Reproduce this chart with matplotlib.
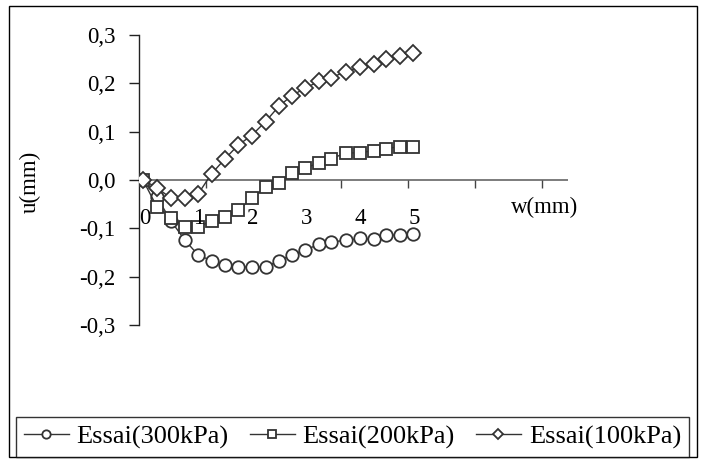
import matplotlib
matplotlib.use("Agg")
import matplotlib.pyplot as plt
from matplotlib.patches import Rectangle
from matplotlib.lines import Line2D

# ---- data ----
w = [0.0, 0.26, 0.52, 0.78, 1.02, 1.27, 1.52, 1.76, 2.01, 2.27, 2.52,
     2.75, 3.0, 3.26, 3.49, 3.75, 4.01, 4.27, 4.5, 4.76, 5.0]
u_300 = [0.0, -0.036, -0.085, -0.125, -0.155, -0.167, -0.176, -0.180, -0.180,
         -0.180, -0.167, -0.155, -0.145, -0.133, -0.128, -0.125, -0.121,
         -0.123, -0.114, -0.114, -0.111]
u_200 = [0.0, -0.056, -0.078, -0.098, -0.098, -0.084, -0.077, -0.063, -0.038,
         -0.015, -0.006, 0.015, 0.024, 0.036, 0.044, 0.056, 0.056, 0.061,
         0.065, 0.069, 0.069]
u_100 = [0.0, -0.016, -0.038, -0.038, -0.029, 0.013, 0.044, 0.072, 0.092,
         0.121, 0.153, 0.174, 0.190, 0.204, 0.212, 0.224, 0.233, 0.241,
         0.251, 0.256, 0.262]
series_labels = ["Essai(300kPa)", "Essai(200kPa)", "Essai(100kPa)"]
y_ticks = [0.3, 0.2, 0.1, 0.0, -0.1, -0.2, -0.3]
y_tick_labels = ["0,3", "0,2", "0,1", "0,0", "-0,1", "-0,2", "-0,3"]
x_text_labels = ["0", "1", "2", "3", "4", "5"]

plt.rcParams['font.family'] = ['Liberation Serif', 'DejaVu Serif']
FS = 16.5

fig = plt.figure(figsize=(7.04, 4.62), dpi=100)
ax = fig.add_axes([139/704, 1-325/462, (568-139)/704, (325-35)/462])

xmin, xmax = -0.074, 7.87
tick_step = 1.245
ax.set_xlim(xmin, xmax)
ax.set_ylim(-0.3, 0.3)

lc = '#333333'
mk = dict(markerfacecolor='white', markeredgecolor=lc, markeredgewidth=1.3,
          color=lc, linewidth=1.0)
ax.plot(w, u_300, marker='o', markersize=9, label=series_labels[0], **mk, zorder=3)
ax.plot(w, u_200, marker='s', markersize=9, label=series_labels[1], **mk, zorder=3)
ax.plot(w, u_100, marker='D', markersize=8.5, label=series_labels[2], **mk, zorder=3)

# spines
for s in ['top', 'right', 'bottom']:
    ax.spines[s].set_visible(False)
ax.spines['left'].set_color('#222222')
ax.spines['left'].set_linewidth(1.0)
ax.axhline(0, color='#666666', linewidth=1.2, zorder=1)

ax.set_yticks(y_ticks)
ax.set_yticklabels(y_tick_labels, fontsize=FS)
ax.tick_params(axis='y', direction='out', length=7, width=1, color='#222222', pad=10)

# x ticks drawn on the zero line, pointing down
xt = [xmin + tick_step * k for k in range(1, 7)]
ax.set_xticks([])
for x in xt:
    ax.plot([x, x], [0, -0.017], color='#444444', linewidth=1.0, zorder=1,
            solid_capstyle='butt')

for i, lab in enumerate(x_text_labels):
    ax.text(i + 0.03, -0.079, lab, ha='center', va='center', fontsize=FS)
ax.text(7.44, -0.057, "w(mm)", ha='center', va='center', fontsize=FS)
fig.text(30/704, 1-182/462, "u(mm)", rotation=90, ha='center', va='center', fontsize=FS)
ax.patch.set_alpha(0)

# legend
handles = [Line2D([], [], marker=m, markersize=s, **mk) for m, s in
           [('o', 6), ('s', 6), ('D', 5.5)]]
leg = fig.legend(handles, series_labels, loc='center',
                 bbox_to_anchor=((19+686)/2/704, 1-(418+456)/2/462),
                 ncol=3, fontsize=19, frameon=True, fancybox=False,
                 handlelength=1.7, handletextpad=0.3, columnspacing=0.8,
                 borderpad=0.3, borderaxespad=0)
leg.get_frame().set_edgecolor('black')
leg.get_frame().set_linewidth(1.0)

# outer frame
fig.patches.append(Rectangle((9/704, 1-457/462), (697-9)/704, (457-6)/462,
                             transform=fig.transFigure, fill=False,
                             edgecolor='black', linewidth=1.0))

fig.savefig("out.png", dpi=100)
